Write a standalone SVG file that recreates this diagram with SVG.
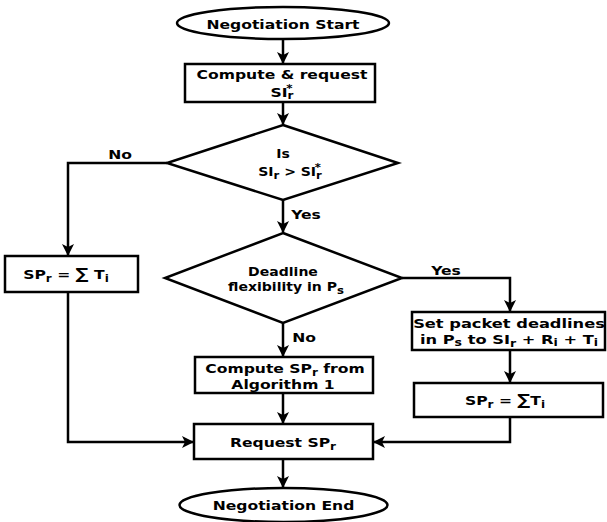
<svg xmlns="http://www.w3.org/2000/svg" width="607" height="522" viewBox="0 0 607 522">
<defs>
<style>
.shape{fill:#fff;stroke:#000;stroke-width:2.5}
.conn{fill:none;stroke:#000;stroke-width:2.5}
text{font-family:"DejaVu Sans","Liberation Sans",sans-serif;font-weight:bold;font-size:13px;fill:#000;text-anchor:middle}
.sub{font-size:10px}
.sm{font-size:12px}
.sig{font-size:15px}
</style>
<marker id="ah" viewBox="0 0 12 12" refX="11" refY="6" markerWidth="12" markerHeight="12" markerUnits="userSpaceOnUse" orient="auto">
<path d="M0,0 L12,6 L0,12 L3,6 Z" fill="#000"/>
</marker>
</defs>
<rect width="607" height="522" fill="#fff"/>
<g id="connectors">
<line class="conn" x1="283" y1="39" x2="283" y2="63" marker-end="url(#ah)"/>
<line class="conn" x1="283" y1="102" x2="283" y2="124" marker-end="url(#ah)"/>
<polyline class="conn" points="167,163 68,163 68,255" marker-end="url(#ah)"/>
<line class="conn" x1="283" y1="200" x2="283" y2="232" marker-end="url(#ah)"/>
<polyline class="conn" points="402,278 510,278 510,311" marker-end="url(#ah)"/>
<line class="conn" x1="283" y1="323" x2="283" y2="356" marker-end="url(#ah)"/>
<line class="conn" x1="510" y1="350" x2="510" y2="382" marker-end="url(#ah)"/>
<line class="conn" x1="283" y1="393" x2="283" y2="423" marker-end="url(#ah)"/>
<polyline class="conn" points="68,292 68,442 193,442" marker-end="url(#ah)"/>
<polyline class="conn" points="510,417 510,442 374,442" marker-end="url(#ah)"/>
<line class="conn" x1="283" y1="459" x2="283" y2="487" marker-end="url(#ah)"/>
<text transform="translate(120,159) scale(1.2,1)">No</text>
<text transform="translate(306,219) scale(1.2,1)">Yes</text>
<text transform="translate(446,275) scale(1.2,1)">Yes</text>
<text transform="translate(304,342) scale(1.2,1)">No</text>
</g>
<g id="start">
<ellipse class="shape" cx="283" cy="23" rx="106" ry="16"/>
<text transform="translate(283,29) scale(1.2,1)">Negotiation Start</text>
</g>
<g id="compute-request">
<rect class="shape" x="185" y="64" width="190" height="38"/>
<text transform="translate(282,79) scale(1.2,1)">Compute &amp; request</text>
<text transform="translate(282,97) scale(1.2,1)">SI<tspan class="sub" dy="2">r</tspan><tspan class="sub" dx="-6" dy="-7">*</tspan></text>
</g>
<g id="decision-si">
<polygon class="shape" points="283,125 398,163 283,200 167,163"/>
<text class="sm" transform="translate(283,158) scale(1.17,1)">Is</text>
<text class="sm" transform="translate(290,176) scale(1.17,1)">SI<tspan class="sub" dy="3">r</tspan><tspan dy="-3">  &gt;  SI</tspan><tspan class="sub" dy="3">r</tspan><tspan class="sub" dx="-6" dy="-8">*</tspan></text>
</g>
<g id="sp-sum-left">
<rect class="shape" x="5" y="256" width="133" height="36"/>
<text transform="translate(66,279) scale(1.2,1)">SP<tspan class="sub" dy="3">r</tspan><tspan dy="-3"> = </tspan><tspan class="sig">∑</tspan><tspan> T</tspan><tspan class="sub" dy="3">i</tspan></text>
</g>
<g id="decision-deadline">
<polygon class="shape" points="283,233 402,278 283,323 165,278"/>
<text class="sm" transform="translate(283,276) scale(1.17,1)">Deadline</text>
<text class="sm" transform="translate(286,291) scale(1.17,1)">flexibility in P<tspan class="sub" dy="3">s</tspan></text>
</g>
<g id="set-deadlines">
<rect class="shape" x="412" y="312" width="193" height="38"/>
<text transform="translate(509,328) scale(1.25,1)">Set packet deadlines</text>
<text transform="translate(509,344) scale(1.25,1)">in P<tspan class="sub" dy="2">s</tspan><tspan dy="-2"> to SI</tspan><tspan class="sub" dy="3">r</tspan><tspan dy="-3"> + R</tspan><tspan class="sub" dy="2">i</tspan><tspan dy="-2"> +  T</tspan><tspan class="sub" dy="2">i</tspan></text>
</g>
<g id="sp-sum-right">
<rect class="shape" x="414" y="383" width="189" height="34"/>
<text transform="translate(505,405) scale(1.2,1)">SP<tspan class="sub" dy="3">r</tspan><tspan dy="-3"> = </tspan><tspan class="sig">∑</tspan><tspan>T</tspan><tspan class="sub" dy="3">i</tspan></text>
</g>
<g id="compute-alg">
<rect class="shape" x="195" y="357" width="178" height="36"/>
<text transform="translate(285,373) scale(1.2,1)">Compute SP<tspan class="sub" dy="3">r</tspan><tspan dy="-3"> from</tspan></text>
<text transform="translate(283,389) scale(1.2,1)">Algorithm 1</text>
</g>
<g id="request">
<rect class="shape" x="194" y="424" width="179" height="35"/>
<text transform="translate(283,447) scale(1.2,1)">Request SP<tspan class="sub" dy="3">r</tspan></text>
</g>
<g id="end">
<ellipse class="shape" cx="283.5" cy="505" rx="104" ry="17"/>
<text transform="translate(283.5,510) scale(1.2,1)">Negotiation End</text>
</g>
</svg>
